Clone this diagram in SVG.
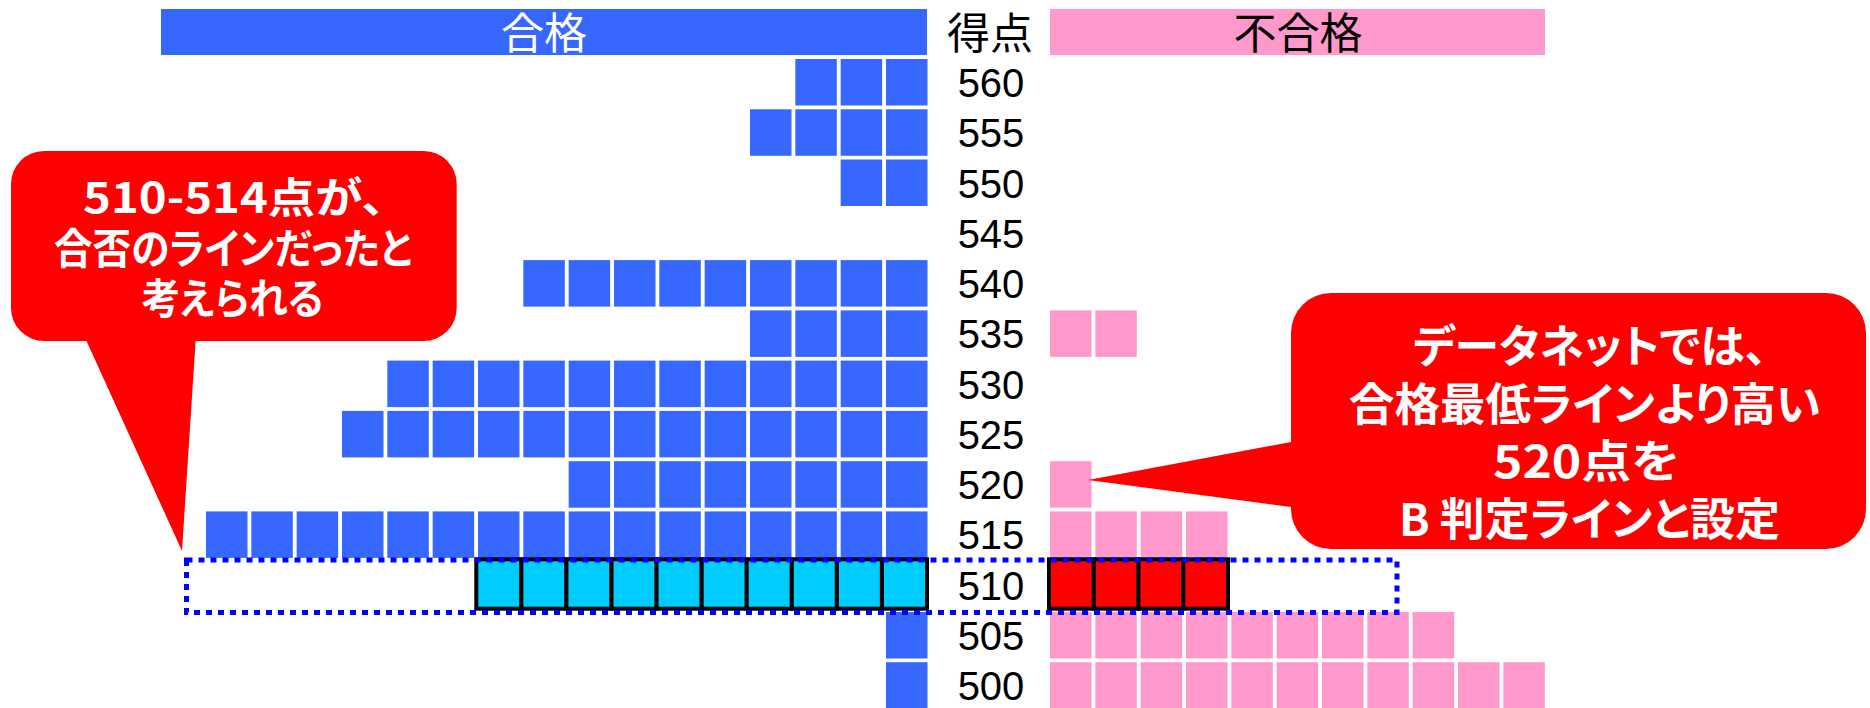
<svg xmlns="http://www.w3.org/2000/svg" xmlns:xlink="http://www.w3.org/1999/xlink" width="1870" height="708" viewBox="0 0 1870 708">
<style>
.hd{font-family:"Noto Sans CJK JP","Noto Sans",sans-serif;font-size:43px;text-anchor:middle}
.sc{font-family:"Liberation Sans",Arial,sans-serif;font-size:40px;fill:#000;text-anchor:middle}
.co{font-family:"Noto Sans CJK JP","Noto Sans",sans-serif;font-weight:bold;fill:#fff;text-anchor:middle;font-feature-settings:"palt"}
.bub{fill:#ff0000}
.hl{stroke:#000;stroke-width:4}
</style>
<defs>
<rect id="B" width="41.5" height="46.5" fill="#3668ff"/>
<rect id="P" width="41.5" height="46.5" fill="#ff99cc"/>
</defs>
<rect width="1870" height="708" fill="#fff"/>

<g id="header-pass">
<rect x="161" y="9" width="766" height="46" fill="#3668ff"/>
<text class="hd" x="544" y="48.5" fill="#fff">合格</text>
</g>
<g id="header-score">
<text class="hd" x="990" y="48.5" fill="#000">得点</text>
</g>
<g id="header-fail">
<rect x="1050" y="9" width="495" height="46" fill="#ff99cc"/>
<text class="hd" x="1298" y="48.5" fill="#000">不合格</text>
</g>

<g id="score-labels">
<text class="sc" x="991" y="97">560</text>
<text class="sc" x="991" y="147.3">555</text>
<text class="sc" x="991" y="197.5">550</text>
<text class="sc" x="991" y="247.8">545</text>
<text class="sc" x="991" y="298.1">540</text>
<text class="sc" x="991" y="348.4">535</text>
<text class="sc" x="991" y="398.6">530</text>
<text class="sc" x="991" y="448.9">525</text>
<text class="sc" x="991" y="499.2">520</text>
<text class="sc" x="991" y="549.4">515</text>
<text class="sc" x="991" y="599.7">510</text>
<text class="sc" x="991" y="650">505</text>
<text class="sc" x="991" y="700.2">500</text>
</g>

<g id="pass-cells">
<g transform="translate(0,59)"><use href="#B" x="886"/><use href="#B" x="840.67"/><use href="#B" x="795.33"/></g>
<g transform="translate(0,109.3)"><use href="#B" x="886"/><use href="#B" x="840.67"/><use href="#B" x="795.33"/><use href="#B" x="750"/></g>
<g transform="translate(0,159.5)"><use href="#B" x="886"/><use href="#B" x="840.67"/></g>
<g transform="translate(0,260.1)"><use href="#B" x="886"/><use href="#B" x="840.67"/><use href="#B" x="795.33"/><use href="#B" x="750"/><use href="#B" x="704.67"/><use href="#B" x="659.33"/><use href="#B" x="614"/><use href="#B" x="568.67"/><use href="#B" x="523.33"/></g>
<g transform="translate(0,310.4)"><use href="#B" x="886"/><use href="#B" x="840.67"/><use href="#B" x="795.33"/><use href="#B" x="750"/></g>
<g transform="translate(0,360.6)"><use href="#B" x="886"/><use href="#B" x="840.67"/><use href="#B" x="795.33"/><use href="#B" x="750"/><use href="#B" x="704.67"/><use href="#B" x="659.33"/><use href="#B" x="614"/><use href="#B" x="568.67"/><use href="#B" x="523.33"/><use href="#B" x="478"/><use href="#B" x="432.67"/><use href="#B" x="387.33"/></g>
<g transform="translate(0,410.9)"><use href="#B" x="886"/><use href="#B" x="840.67"/><use href="#B" x="795.33"/><use href="#B" x="750"/><use href="#B" x="704.67"/><use href="#B" x="659.33"/><use href="#B" x="614"/><use href="#B" x="568.67"/><use href="#B" x="523.33"/><use href="#B" x="478"/><use href="#B" x="432.67"/><use href="#B" x="387.33"/><use href="#B" x="342"/></g>
<g transform="translate(0,461.2)"><use href="#B" x="886"/><use href="#B" x="840.67"/><use href="#B" x="795.33"/><use href="#B" x="750"/><use href="#B" x="704.67"/><use href="#B" x="659.33"/><use href="#B" x="614"/><use href="#B" x="568.67"/></g>
<g transform="translate(0,511.4)"><use href="#B" x="886"/><use href="#B" x="840.67"/><use href="#B" x="795.33"/><use href="#B" x="750"/><use href="#B" x="704.67"/><use href="#B" x="659.33"/><use href="#B" x="614"/><use href="#B" x="568.67"/><use href="#B" x="523.33"/><use href="#B" x="478"/><use href="#B" x="432.67"/><use href="#B" x="387.33"/><use href="#B" x="342"/><use href="#B" x="296.67"/><use href="#B" x="251.33"/><use href="#B" x="206"/></g>
<g transform="translate(0,612)"><use href="#B" x="886"/></g>
<g transform="translate(0,662.2)"><use href="#B" x="886"/></g>
</g>

<g id="fail-cells">
<g transform="translate(0,310.4)"><use href="#P" x="1050"/><use href="#P" x="1095.33"/></g>
<g transform="translate(0,461.2)"><use href="#P" x="1050"/></g>
<g transform="translate(0,511.4)"><use href="#P" x="1050"/><use href="#P" x="1095.33"/><use href="#P" x="1140.67"/><use href="#P" x="1186"/></g>
<g transform="translate(0,612)"><use href="#P" x="1050"/><use href="#P" x="1095.33"/><use href="#P" x="1140.67"/><use href="#P" x="1186"/><use href="#P" x="1231.33"/><use href="#P" x="1276.67"/><use href="#P" x="1322"/><use href="#P" x="1367.33"/><use href="#P" x="1412.67"/></g>
<g transform="translate(0,662.2)"><use href="#P" x="1050"/><use href="#P" x="1095.33"/><use href="#P" x="1140.67"/><use href="#P" x="1186"/><use href="#P" x="1231.33"/><use href="#P" x="1276.67"/><use href="#P" x="1322"/><use href="#P" x="1367.33"/><use href="#P" x="1412.67"/><use href="#P" x="1458"/><use href="#P" x="1503.33"/></g>
</g>

<g id="row510-pass" class="hl" fill="#00ccff">
<rect x="476.3" y="559.3" width="45.07" height="49.4"/>
<rect x="521.37" y="559.3" width="45.07" height="49.4"/>
<rect x="566.44" y="559.3" width="45.07" height="49.4"/>
<rect x="611.51" y="559.3" width="45.07" height="49.4"/>
<rect x="656.58" y="559.3" width="45.07" height="49.4"/>
<rect x="701.65" y="559.3" width="45.07" height="49.4"/>
<rect x="746.72" y="559.3" width="45.07" height="49.4"/>
<rect x="791.79" y="559.3" width="45.07" height="49.4"/>
<rect x="836.86" y="559.3" width="45.07" height="49.4"/>
<rect x="881.93" y="559.3" width="45.07" height="49.4"/>
</g>
<g id="row510-fail" class="hl" fill="#ff0000">
<rect x="1049" y="559.3" width="44.75" height="49.4"/>
<rect x="1093.75" y="559.3" width="44.75" height="49.4"/>
<rect x="1138.5" y="559.3" width="44.75" height="49.4"/>
<rect x="1183.25" y="559.3" width="44.75" height="49.4"/>
</g>

<g id="line-frame">
<rect x="186.5" y="560" width="1210.5" height="52.5" fill="none" stroke="#0000ff" stroke-width="5" stroke-dasharray="6 6"/>
</g>

<g id="callout-left">
<path class="bub" d="M44,151 H423.7 A33,33 0 0 1 456.7,184 V308 A33,33 0 0 1 423.7,341 H195.6 L182,551 L86.5,341 H44 A33,33 0 0 1 11,308 V184 A33,33 0 0 1 44,151 Z"/>
<text class="co" font-size="42" x="234" y="213" textLength="302" lengthAdjust="spacingAndGlyphs">510-514点が、</text>
<text class="co" font-size="42" x="233" y="263.5" textLength="358" lengthAdjust="spacingAndGlyphs">合否のラインだったと</text>
<text class="co" font-size="42" x="232.5" y="314" textLength="182" lengthAdjust="spacingAndGlyphs">考えられる</text>
</g>

<g id="callout-right">
<path class="bub" d="M1331,293 H1826 A40,40 0 0 1 1866,333 V509 A40,40 0 0 1 1826,549 H1331 A40,40 0 0 1 1291,509 V507 L1088,480 L1291,442 V333 A40,40 0 0 1 1331,293 Z"/>
<text class="co" font-size="45" x="1590" y="362.5" textLength="354" lengthAdjust="spacingAndGlyphs">データネットでは、</text>
<text class="co" font-size="45" x="1585" y="420.5" textLength="472" lengthAdjust="spacingAndGlyphs">合格最低ラインより高い</text>
<text class="co" font-size="45" x="1586" y="478" textLength="186" lengthAdjust="spacingAndGlyphs">520点を</text>
<text class="co" font-size="45" x="1589.5" y="536" textLength="381" lengthAdjust="spacingAndGlyphs">B 判定ラインと設定</text>
</g>

<g id="connectors"/>
</svg>
